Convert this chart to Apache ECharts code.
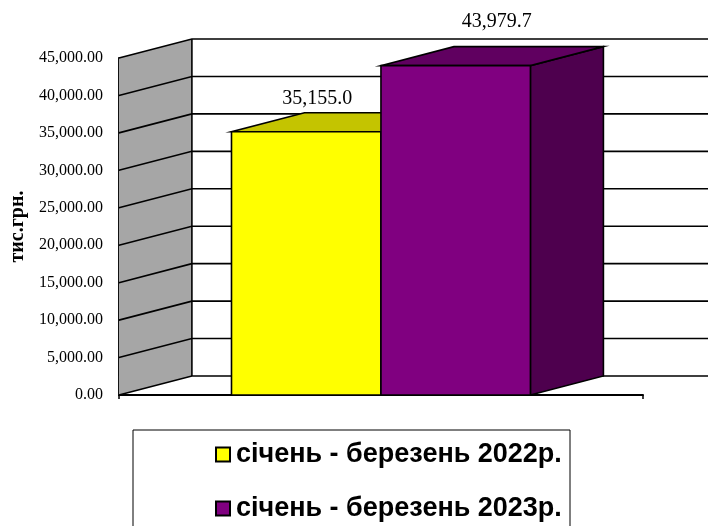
<!DOCTYPE html>
<html>
<head>
<meta charset="utf-8">
<script src="https://cdn.jsdelivr.net/npm/echarts@6/dist/echarts.min.js"></script>
<style>
html, body { margin: 0; padding: 0; background: #fff; }
#main { width: 708px; height: 526px; }
</style>
</head>
<body>
<div id="main"></div>
<script>
// data
var categories = [''];
var seriesNames = ['січень - березень 2022р.', 'січень - березень 2023р.'];
var values2022 = [35155.0];
var values2023 = [43979.7];
var tickValues = [0, 5000, 10000, 15000, 20000, 25000, 30000, 35000, 40000, 45000];

// 3d look (depth offset of the back wall, px)
var DX = 73, DY = -19;
var BAR_FRAC = 150 / 526;
var LINE = { stroke: '#000', lineWidth: 1.6 };
var SERIF = '"Liberation Serif", "Times New Roman", serif';

function fmtAxis(v) {
	return v.toLocaleString('en-US', { minimumFractionDigits: 2, maximumFractionDigits: 2 });
}
function fmtLabel(v) {
	return v.toLocaleString('en-US', { minimumFractionDigits: 1, maximumFractionDigits: 1 });
}

// wall + gridlines, one item per tick value
function renderWall(params, api) {
	var cs = params.coordSys;
	var left = cs.x, right = cs.x + cs.width;
	var y = api.coord([0, api.value(1)])[1];
	var children = [];
	if (params.dataIndex === 0) {
		var yTop = api.coord([0, tickValues[tickValues.length - 1]])[1];
		children.push({
			type: 'polygon',
			shape: { points: [[left, yTop], [left + DX, yTop + DY], [left + DX, y + DY], [left, y]] },
			style: { fill: '#A6A6A6' }
		});
		children.push({
			type: 'line',
			shape: { x1: left + DX, y1: yTop + DY, x2: left + DX, y2: y + DY },
			style: LINE
		});
	}
	children.push({
		type: 'polyline',
		shape: { points: [[left, y], [left + DX, y + DY], [right + DX + 10, y + DY]] },
		style: { stroke: '#000', lineWidth: 1.6, fill: null }
	});
	return { type: 'group', children: children };
}

function makeBarRenderer(idx, colors, lblShift) {
	return function (params, api) {
		var val = api.value(1);
		var top = api.coord([api.value(0), val]);
		var base = api.coord([api.value(0), 0]);
		var band = api.size([1, 0])[0];
		var w = band * BAR_FRAC;
		var x0 = idx === 0 ? top[0] - w : top[0];
		var x1 = x0 + w;
		var y0 = top[1], y1 = base[1];
		return {
			type: 'group',
			children: [
				{ type: 'polygon', shape: { points: [[x1, y0], [x1 + DX, y0 + DY], [x1 + DX, y1 + DY], [x1, y1]] },
				  style: Object.assign({ fill: colors[2] }, LINE) },
				{ type: 'polygon', shape: { points: [[x0, y0], [x1, y0], [x1 + DX, y0 + DY], [x0 + DX, y0 + DY]] },
				  style: Object.assign({ fill: colors[1] }, LINE) },
				{ type: 'rect', shape: { x: x0, y: y0, width: w, height: y1 - y0 },
				  style: Object.assign({ fill: colors[0] }, LINE) },
				{ type: 'text', style: {
					text: fmtLabel(val), x: (x0 + x1) / 2 + lblShift[0], y: y0 + DY + lblShift[1],
					align: 'center', verticalAlign: 'bottom', fill: '#000',
					fontSize: 20, fontFamily: SERIF } }
			]
		};
	};
}

var chart = echarts.init(document.getElementById('main'));
var option = {
	animation: false,
	grid: { left: 117, right: 65, top: 58, bottom: 131 },
	xAxis: {
		type: 'category',
		data: categories,
		axisLine: { lineStyle: { color: '#000', width: 2 } },
		axisTick: { show: true, length: 4, lineStyle: { color: '#000', width: 1.5 } },
		axisLabel: { show: false },
		splitLine: { show: false }
	},
	yAxis: {
		type: 'value',
		min: 0,
		max: 45000,
		interval: 5000,
		name: 'тис.грн.',
		nameLocation: 'middle',
		nameRotate: 90,
		nameGap: 88,
		nameTextStyle: { fontFamily: SERIF, fontWeight: 'bold', fontSize: 20, color: '#000' },
		axisLine: { show: true, lineStyle: { color: '#000', width: 2 } },
		axisTick: { show: true, inside: true, length: 3, lineStyle: { color: '#000' } },
		minorTick: { show: true, splitNumber: 5, length: 3, lineStyle: { color: '#000' } },
		axisLabel: { formatter: fmtAxis, fontFamily: SERIF, fontSize: 16, color: '#000', margin: 16 },
		splitLine: { show: false }
	},
	legend: {
		orient: 'vertical',
		left: 215,
		top: 441,
		padding: 0,
		itemGap: 27,
		itemWidth: 14,
		itemHeight: 14,
		icon: 'rect',
		data: seriesNames,
		textStyle: { fontFamily: '"Liberation Sans", Arial, sans-serif', fontWeight: 'bold', fontSize: 27, lineHeight: 27, color: '#000', padding: [0, 0, 0, 1] }
	},
	graphic: [{
		type: 'rect',
		shape: { x: 133, y: 430, width: 437, height: 110 },
		style: { fill: '#fff', stroke: '#000', lineWidth: 1 },
		z: -1
	}],
	series: [{
		type: 'custom',
		name: 'wall',
		silent: true,
		z: 1,
		renderItem: renderWall,
		data: tickValues.map(function (v) { return [0, v]; })
	}, {
		type: 'custom',
		name: seriesNames[0],
		z: 2,
		itemStyle: { color: '#FFFF00', borderColor: '#000', borderWidth: 1.5 },
		renderItem: makeBarRenderer(0, ['#FFFF00', '#C4C400', '#C4C400'], [11, -4]),
		data: values2022.map(function (v, i) { return [i, v]; })
	}, {
		type: 'custom',
		name: seriesNames[1],
		z: 3,
		itemStyle: { color: '#800080', borderColor: '#000', borderWidth: 1.5 },
		renderItem: makeBarRenderer(1, ['#800080', '#600060', '#4E004E'], [41, -15]),
		data: values2023.map(function (v, i) { return [i, v]; })
	}]
};
chart.setOption(option);
</script>
</body>
</html>
